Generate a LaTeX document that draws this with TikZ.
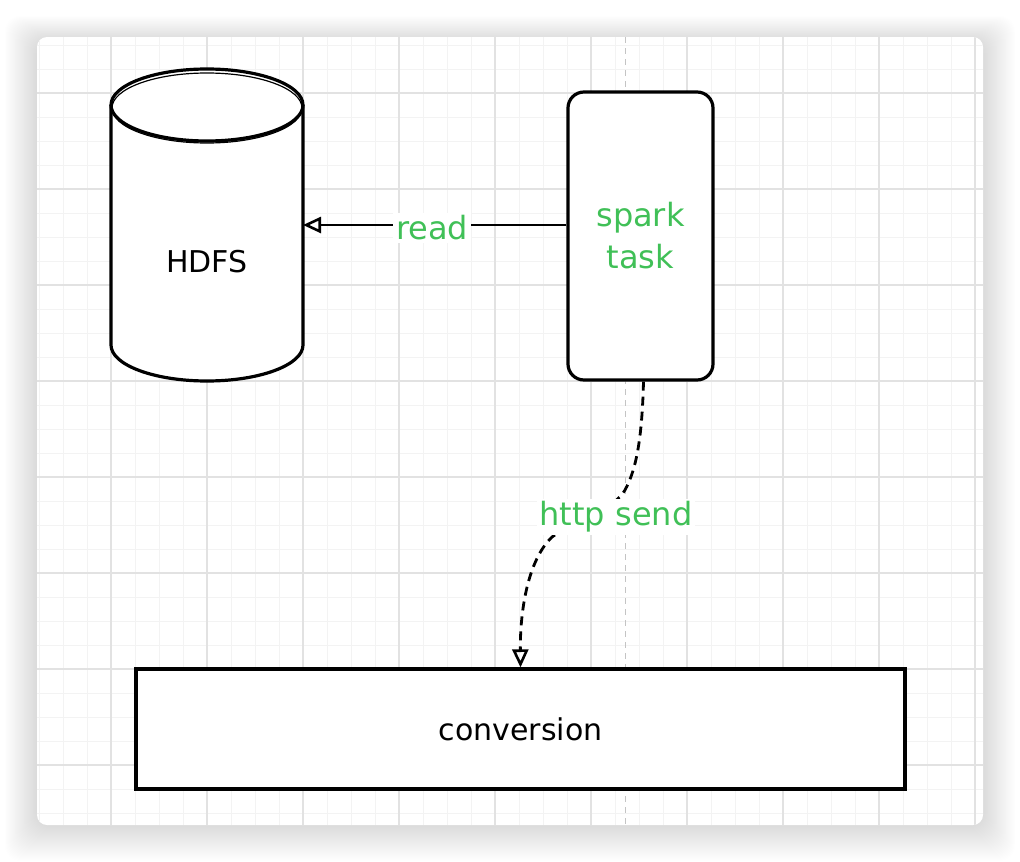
\documentclass[tikz,border=0pt]{standalone}
\usepackage{fontspec}
\setmainfont{DejaVu Sans}
\usetikzlibrary{arrows.meta}
\definecolor{grn}{HTML}{40C057}
\definecolor{minorgrid}{HTML}{F3F3F3}
\definecolor{majorgrid}{HTML}{E2E2E2}
\definecolor{guide}{HTML}{C4C4C4}
\tikzset{
  ink/.style={line width=3.2pt, draw=black},
  blk/.style={font=\fontsize{30}{38}\selectfont, text=black},
  lbl/.style={font=\fontsize{32}{42}\selectfont, text=grn},
  lblbg/.style={lbl, fill=white, inner sep=3pt},
  tip/.style={-{Triangle[open, length=18pt, width=16pt, line width=2.6pt]}},
  conn/.style={line width=2.8pt, draw=black, tip},
}
\begin{document}
\begin{tikzpicture}[x=1pt, y=-1pt]
\useasboundingbox (0,0) rectangle (1020,862);
\fill[white] (0,0) rectangle (1020,862);
% soft shadow of the card
\foreach \i in {1,...,36} {
  \fill[black, opacity=0.0042, rounded corners=16pt]
    ({37-\i*0.9}, {37-\i*0.7+4}) rectangle ({983+\i*0.9}, {825+\i*1.0});
}
% card
\fill[white, rounded corners=10pt] (37,37) rectangle (983,825);
\begin{scope}
  \clip[rounded corners=10pt] (37,37) rectangle (983,825);
  \foreach \x in {39,63,...,975} \draw[minorgrid, line width=1pt] (\x,37) -- (\x,825);
  \foreach \y in {45,69,...,813} \draw[minorgrid, line width=1pt] (37,\y) -- (983,\y);
  \foreach \x in {111,207,...,975} \draw[majorgrid, line width=1.2pt] (\x,37) -- (\x,825);
  \foreach \y in {93,189,...,765} \draw[majorgrid, line width=1.2pt] (37,\y) -- (983,\y);
  \draw[guide, line width=1pt, dash pattern=on 6pt off 5pt] (625,37) -- (625,825);
\end{scope}

% HDFS cylinder
\fill[white] (111,105) -- (111,345) arc[start angle=180, end angle=0, x radius=96, y radius=36]
  -- (303,105) arc[start angle=0, end angle=-180, x radius=96, y radius=36] -- cycle;
\draw[ink] (111,105) -- (111,345) arc[start angle=180, end angle=0, x radius=96, y radius=36] -- (303,105);
\draw[ink] (207,105) ellipse[x radius=96, y radius=36];
\draw[line width=1.2pt] (207,108) ellipse[x radius=95, y radius=35];
\node[minimum width=192pt, minimum height=312pt, inner sep=0pt, outer sep=0pt] (hdfs) at (207,225) {};
\node[blk] (hdfstext) at (207,262) {HDFS};

% spark task
\node[ink, fill=white, rounded corners=16pt, minimum width=145pt, minimum height=288pt,
      inner sep=0pt, lbl, align=center] (spark) at (640.5,236) {spark\\task};

% conversion
\node[ink, fill=white, minimum width=769pt, minimum height=120pt, inner sep=0pt, blk]
  (conv) at (520.5,729) {conversion};

% read arrow
\draw[conn] ([yshift=11pt]spark.west) -- node[lblbg, pos=0.51, yshift=-3pt] (readlbl) {read} (hdfs.east);

% http send arrow
\draw[conn, dash pattern=on 9pt off 6pt]
  ([xshift=3pt]spark.south) .. controls (642,440) and (636,470) .. (625,490)
  .. controls (614,510) and (575,520) .. (552,537)
  .. controls (528,560) and (520,610) .. (conv.north);
\node[lblbg] (httplbl) at (616,517) {http send};
\end{tikzpicture}
\end{document}
